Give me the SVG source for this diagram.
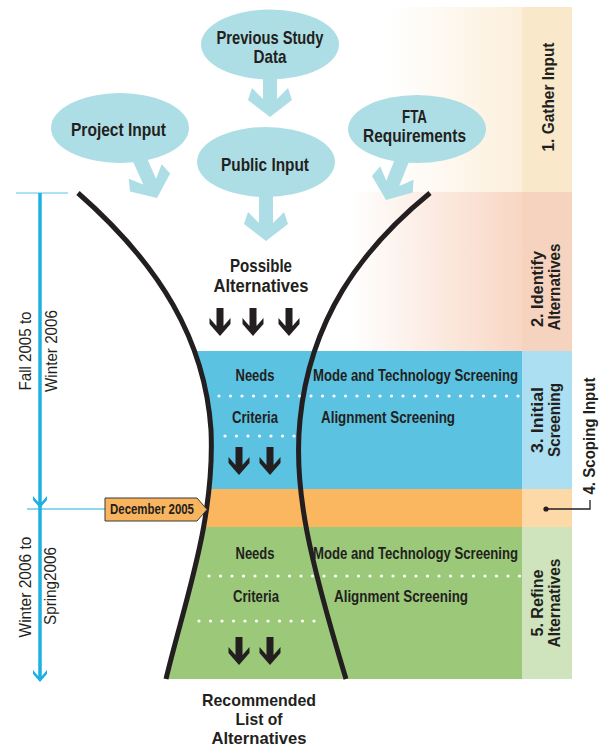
<svg xmlns="http://www.w3.org/2000/svg" width="609" height="749" viewBox="0 0 609 749">
<style>
.b{font-family:"Liberation Sans Narrow","Liberation Sans",Arial,sans-serif;font-weight:bold;fill:#231f20}
.r{font-family:"Liberation Sans Narrow","Liberation Sans",Arial,sans-serif;font-weight:normal;fill:#231f20}
.m{text-anchor:middle}
.ell{fill:#aedee5}
.la{fill:#aedee5}
.ka{fill:#231f20}
.funnel{fill:none;stroke:#231f20;stroke-width:5;stroke-linecap:butt}
.dots{stroke:#ffffff;stroke-width:3.2;stroke-linecap:round;stroke-dasharray:0 11.5;fill:none}
.tl{stroke:#1cb1e0;fill:none}
</style>
<defs>
<linearGradient id="g1" x1="0" x2="1" y1="0" y2="0"><stop offset="0" stop-color="#ffffff"/><stop offset="1" stop-color="#fcefdb"/></linearGradient>
<linearGradient id="g2" x1="0" x2="1" y1="0" y2="0"><stop offset="0" stop-color="#ffffff"/><stop offset="1" stop-color="#f8d6c3"/></linearGradient>
<clipPath id="fc"><path d="M78,193 C160,265 205,340 211,430 C215,520 185,600 166,679 L522,679 L522,193 Z"/></clipPath>
<path id="bigArrow" d="M0,0 L22,-17 L18,-29 L7,-18 L7,-48 L-7,-48 L-7,-18 L-18,-29 L-22,-17 Z"/>
<path id="blkArrow" d="M0,0 L10.5,-12 L10.5,-18 L3.5,-10 L3.5,-28 L-3.5,-28 L-3.5,-10 L-10.5,-18 L-10.5,-12 Z"/>
<path id="tlHead" d="M0,0 L7,-8 L7,-12 L1.8,-6 L-1.8,-6 L-7,-12 L-7,-8 Z"/>
</defs>

<g id="bands">
<rect x="390" y="7" width="132" height="185" fill="url(#g1)"/>
<rect x="522" y="7" width="50" height="185" fill="#f9e8ca"/>
<rect x="350" y="192" width="172" height="159" fill="url(#g2)"/>
<rect x="522" y="192" width="50" height="159" fill="#f6d3bf"/>
<g clip-path="url(#fc)">
<rect x="150" y="351" width="372" height="138" fill="#5bc2e2"/>
<rect x="150" y="489" width="372" height="38" fill="#fbb760"/>
<rect x="150" y="527" width="372" height="152" fill="#9cc87a"/>
</g>
<rect x="522" y="351" width="50" height="138" fill="#acdff1"/>
<rect x="522" y="489" width="50" height="38" fill="#fdd9a7"/>
<rect x="522" y="527" width="50" height="152" fill="#cfe4bc"/>
<line class="dots" x1="219" y1="396" x2="521" y2="396"/>
<line class="dots" x1="225" y1="436" x2="295" y2="436"/>
<line class="dots" x1="209" y1="576" x2="521" y2="576"/>
<line class="dots" x1="199" y1="621" x2="318" y2="621"/>
</g>

<g id="connectors">
<use href="#bigArrow" class="la" transform="translate(270,117)"/>
<use href="#bigArrow" class="la" transform="translate(266,241)"/>
<use href="#bigArrow" class="la" transform="translate(157,198) rotate(-24)"/>
<use href="#bigArrow" class="la" transform="translate(386,200) rotate(22)"/>
<use href="#blkArrow" class="ka" transform="translate(220,336)"/>
<use href="#blkArrow" class="ka" transform="translate(253,336)"/>
<use href="#blkArrow" class="ka" transform="translate(289,336)"/>
<use href="#blkArrow" class="ka" transform="translate(239,475)"/>
<use href="#blkArrow" class="ka" transform="translate(270,475)"/>
<use href="#blkArrow" class="ka" transform="translate(239,665)"/>
<use href="#blkArrow" class="ka" transform="translate(270,665)"/>
<path d="M546,509 H590 V500" fill="none" stroke="#231f20" stroke-width="1.3"/>
<circle cx="546" cy="509" r="2.6" fill="#231f20"/>
</g>

<g id="funnel">
<path class="funnel" d="M78,193 C160,265 205,340 211,430 C215,520 185,600 166,679"/>
<path class="funnel" d="M430,193 C360,250 310,320 300,420 C293,490 310,560 346,679"/>
</g>

<g id="node-previous-study">
<ellipse class="ell" cx="270" cy="44.5" rx="69" ry="35"/>
<text class="b m" x="270" y="44" font-size="19" textLength="107" lengthAdjust="spacingAndGlyphs">Previous Study</text>
<text class="b m" x="270" y="63" font-size="19" textLength="33" lengthAdjust="spacingAndGlyphs">Data</text>
</g>
<g id="node-project-input">
<ellipse class="ell" cx="120" cy="128" rx="69" ry="35"/>
<text class="b m" x="118.5" y="136" font-size="19" textLength="95" lengthAdjust="spacingAndGlyphs">Project Input</text>
</g>
<g id="node-public-input">
<ellipse class="ell" cx="266" cy="162" rx="69" ry="35"/>
<text class="b m" x="265" y="171" font-size="19" textLength="88" lengthAdjust="spacingAndGlyphs">Public Input</text>
</g>
<g id="node-fta">
<ellipse class="ell" cx="417" cy="129" rx="69" ry="34"/>
<text class="b m" x="414.5" y="123" font-size="19" textLength="25" lengthAdjust="spacingAndGlyphs">FTA</text>
<text class="b m" x="414.5" y="142" font-size="19" textLength="103" lengthAdjust="spacingAndGlyphs">Requirements</text>
</g>

<g id="node-possible">
<text class="b m" x="261" y="272" font-size="18" textLength="62" lengthAdjust="spacingAndGlyphs">Possible</text>
<text class="b m" x="261" y="292" font-size="18" textLength="95" lengthAdjust="spacingAndGlyphs">Alternatives</text>
</g>

<g id="node-initial-screening">
<text class="b m" x="255" y="381" font-size="17" textLength="39" lengthAdjust="spacingAndGlyphs">Needs</text>
<text class="b" x="313" y="381" font-size="17" textLength="205" lengthAdjust="spacingAndGlyphs">Mode and Technology Screening</text>
<text class="b m" x="255" y="423" font-size="17" textLength="46" lengthAdjust="spacingAndGlyphs">Criteria</text>
<text class="b" x="321" y="423" font-size="17" textLength="134" lengthAdjust="spacingAndGlyphs">Alignment Screening</text>
</g>

<g id="node-refine">
<text class="b m" x="255" y="559" font-size="17" textLength="39" lengthAdjust="spacingAndGlyphs">Needs</text>
<text class="b" x="313" y="559" font-size="17" textLength="205" lengthAdjust="spacingAndGlyphs">Mode and Technology Screening</text>
<text class="b m" x="256" y="602" font-size="17" textLength="46" lengthAdjust="spacingAndGlyphs">Criteria</text>
<text class="b" x="334" y="602" font-size="17" textLength="134" lengthAdjust="spacingAndGlyphs">Alignment Screening</text>
</g>

<g id="node-recommended">
<text class="b m" x="259" y="706" font-size="17" textLength="114" lengthAdjust="spacingAndGlyphs">Recommended</text>
<text class="b m" x="259" y="725" font-size="17" textLength="47" lengthAdjust="spacingAndGlyphs">List of</text>
<text class="b m" x="259" y="744" font-size="17" textLength="95" lengthAdjust="spacingAndGlyphs">Alternatives</text>
</g>

<g id="stage-labels">
<text class="b m" transform="translate(554,97) rotate(-90)" font-size="17" textLength="109" lengthAdjust="spacingAndGlyphs">1. Gather Input</text>
<text class="b m" transform="translate(543,289) rotate(-90)" font-size="16" textLength="76" lengthAdjust="spacingAndGlyphs">2. Identify</text>
<text class="b m" transform="translate(560,287) rotate(-90)" font-size="16" textLength="87" lengthAdjust="spacingAndGlyphs">Alternatives</text>
<text class="b m" transform="translate(543,420) rotate(-90)" font-size="16" textLength="66" lengthAdjust="spacingAndGlyphs">3. Initial</text>
<text class="b m" transform="translate(560,420) rotate(-90)" font-size="16" textLength="74" lengthAdjust="spacingAndGlyphs">Screening</text>
<text class="b m" transform="translate(595,436) rotate(-90)" font-size="17" textLength="117" lengthAdjust="spacingAndGlyphs">4. Scoping Input</text>
<text class="b m" transform="translate(543,603) rotate(-90)" font-size="16" textLength="67" lengthAdjust="spacingAndGlyphs">5. Refine</text>
<text class="b m" transform="translate(560,603) rotate(-90)" font-size="16" textLength="89" lengthAdjust="spacingAndGlyphs">Alternatives</text>
</g>

<g id="timeline">
<line x1="16" y1="193" x2="68" y2="193" stroke="#5cc6ea" stroke-width="1.2"/>
<line class="tl" x1="40" y1="193" x2="40" y2="678" stroke-width="3.5"/>
<line x1="27" y1="509" x2="105" y2="509" stroke="#1cb1e0" stroke-width="1.2"/>
<use href="#tlHead" fill="#1cb1e0" transform="translate(40,508)"/>
<use href="#tlHead" fill="#1cb1e0" transform="translate(40,682)"/>
<text class="r m" transform="translate(31,351) rotate(-90)" font-size="17" textLength="79" lengthAdjust="spacingAndGlyphs">Fall 2005 to</text>
<text class="r m" transform="translate(57,351) rotate(-90)" font-size="17" textLength="82" lengthAdjust="spacingAndGlyphs">Winter 2006</text>
<text class="r m" transform="translate(31,587) rotate(-90)" font-size="17" textLength="101" lengthAdjust="spacingAndGlyphs">Winter 2006 to</text>
<text class="r m" transform="translate(56,586) rotate(-90)" font-size="17" textLength="78" lengthAdjust="spacingAndGlyphs">Spring2006</text>
</g>

<g id="node-december">
<path d="M105,498 H197 L207,509.5 L197,521 H105 Z" fill="#f9b55e" stroke="#3a3a3a" stroke-width="1"/>
<text class="b m" x="152" y="514" font-size="14" textLength="84" lengthAdjust="spacingAndGlyphs">December 2005</text>
</g>
</svg>
